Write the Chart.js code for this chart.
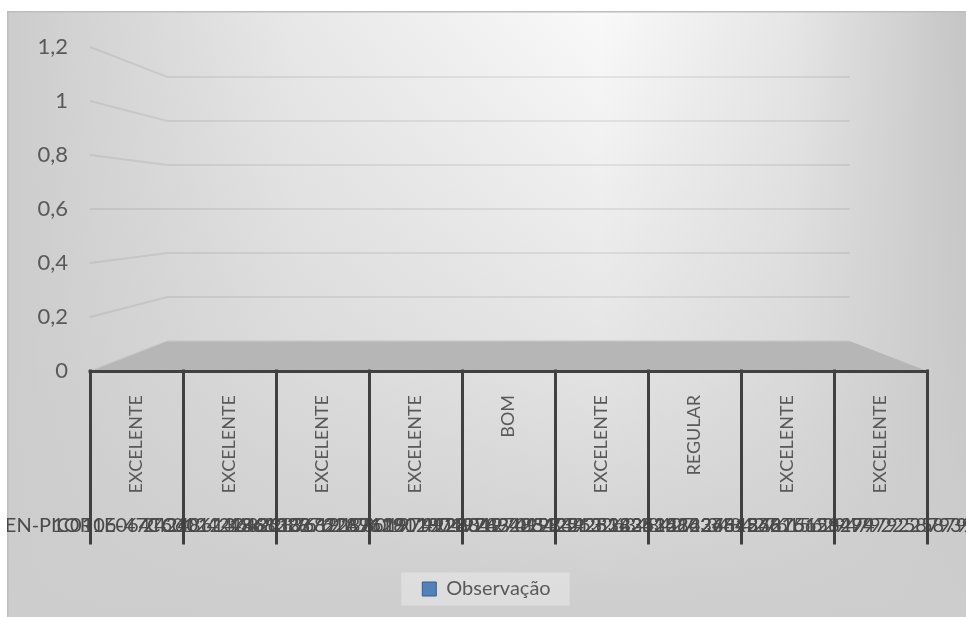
<!DOCTYPE html>
<html>
<head>
<meta charset="utf-8">
<title>Observação</title>
<script src="https://cdn.jsdelivr.net/npm/chart.js@4.4.1/dist/chart.umd.min.js"></script>
<style>
  html, body { margin: 0; padding: 0; background: #ffffff; }
  #frame { position: absolute; left: 7px; top: 11px; width: 959px; height: 606px; }
  #handle { position: absolute; left: 9px; top: 13px; width: 2px; height: 2px; background: #222; }
</style>
</head>
<body>
<div id="handle"></div>
<div id="frame"><canvas id="chart" width="959" height="606"></canvas></div>
<script>
// ---- data ----
const seriesName = 'Observação';
const ratings = ['EXCELENTE', 'EXCELENTE', 'EXCELENTE', 'EXCELENTE', 'BOM', 'EXCELENTE', 'REGULAR', 'EXCELENTE', 'EXCELENTE'];
const recordIds = [
  'ONTEN-PIC0106-47C6012424861382',
  '1OR1E064TC60124248613682287619',
  '2424861368228761912801974928342',
  '1368228761A912801974928342512263',
  '22876191280197492834251226348427',
  '9128019749283425122634842761568',
  '0197492834251226348427615629479',
  '2834251226348427615629479225879',
  '348427615629479225879394091240'
];
const observationValues = [0, 0, 0, 0, 0, 0, 0, 0, 0];
const yTickLabels = ['0', '0,2', '0,4', '0,6', '0,8', '1', '1,2'];
const yMax = 1.2;
const yStep = 0.2;

// ---- look ----
const FONT = 'Lato, "Noto Sans", sans-serif';
const TEXT = '#595959';
const DEPTH = 0.815;           // back wall scale relative to the front plane

function zeroPad(scale) {
  scale.paddingLeft = 0; scale.paddingRight = 0;
  scale.paddingTop = 0; scale.paddingBottom = 0;
}

// Background, 3D back wall, floor and category frame
const scene3d = {
  id: 'scene3d',
  beforeDraw(chart) {
    const { ctx, width, height } = chart;
    ctx.save();
    const gh = ctx.createLinearGradient(0, 0, width, 0);
    gh.addColorStop(0, '#cccccc');
    gh.addColorStop(0.3, '#e8e8e8');
    gh.addColorStop(0.62, '#f9f9f9');
    gh.addColorStop(0.82, '#e6e6e6');
    gh.addColorStop(1, '#c5c5c5');
    ctx.fillStyle = gh;
    ctx.fillRect(0, 0, width, height);
    const gv = ctx.createLinearGradient(0, 0, 0, height);
    gv.addColorStop(0, 'rgba(205,205,205,0)');
    gv.addColorStop(0.55, 'rgba(205,205,205,0.45)');
    gv.addColorStop(1, 'rgba(205,205,205,1)');
    ctx.fillStyle = gv;
    ctx.fillRect(0, 0, width, height);

    // outer frame edges
    ctx.strokeStyle = '#bdbdbd';
    ctx.lineWidth = 1.5;
    ctx.beginPath();
    ctx.moveTo(0.75, height); ctx.lineTo(0.75, 0.75); ctx.lineTo(width, 0.75);
    ctx.stroke();

    // legend panel
    const lg = chart.legend;
    if (lg && lg.legendHitBoxes && lg.legendHitBoxes.length) {
      const hb = lg.legendHitBoxes[0];
      ctx.fillStyle = 'rgba(255,255,255,0.3)';
      ctx.fillRect(hb.left - 21, hb.top - 6.5, hb.width + 40, hb.height + 13);
    }

    // walls and floor from the scales
    const xs = chart.scales.x, ys = chart.scales.y;
    const cx = (xs.left + xs.right) / 2;
    const cy = (ys.top + ys.bottom) / 2;
    const bx = px => cx + (px - cx) * DEPTH;
    const by = py => cy + (py - cy) * DEPTH;

    ctx.strokeStyle = 'rgba(0,0,0,0.07)';
    ctx.lineWidth = 2;
    ys.ticks.forEach(t => {
      if (t.value === 0) return;
      const py = ys.getPixelForValue(t.value);
      ctx.beginPath();
      ctx.moveTo(xs.left, py);
      ctx.lineTo(bx(xs.left), by(py));
      ctx.lineTo(bx(xs.right), by(py));
      ctx.stroke();
    });

    const p0 = ys.getPixelForValue(0);
    ctx.beginPath();
    ctx.moveTo(xs.left, p0);
    ctx.lineTo(bx(xs.left), by(p0));
    ctx.lineTo(bx(xs.right), by(p0));
    ctx.lineTo(xs.right, p0);
    ctx.closePath();
    ctx.fillStyle = '#b6b6b6';
    ctx.fill();
    ctx.strokeStyle = '#c4c4c4';
    ctx.lineWidth = 1.2;
    ctx.beginPath();
    ctx.moveTo(xs.left, p0);
    ctx.lineTo(bx(xs.left), by(p0));
    ctx.lineTo(bx(xs.right), by(p0));
    ctx.stroke();
    ctx.restore();
  },
  afterDatasetsDraw(chart) {
    const { ctx } = chart;
    const xs = chart.scales.x, ys = chart.scales.y, x2 = chart.scales.x2;
    const p0 = ys.getPixelForValue(0);
    const n = xs.ticks.length;
    ctx.save();
    ctx.strokeStyle = '#404040';
    ctx.lineWidth = 3;
    ctx.lineCap = 'square';
    for (let i = 0; i <= n; i++) {
      const px = i === 0 ? xs.left : i === n ? xs.right
        : (xs.getPixelForValue(i - 1) + xs.getPixelForValue(i)) / 2;
      ctx.beginPath();
      ctx.moveTo(Math.round(px) + 0.5, p0);
      ctx.lineTo(Math.round(px) + 0.5, x2.bottom);
      ctx.stroke();
    }
    ctx.beginPath();
    ctx.moveTo(xs.left, Math.round(p0) + 0.5);
    ctx.lineTo(xs.right, Math.round(p0) + 0.5);
    ctx.stroke();
    ctx.restore();
  }
};

new Chart(document.getElementById('chart'), {
  type: 'bar',
  data: {
    labels: ratings,
    datasets: [{
      label: seriesName,
      data: observationValues,
      backgroundColor: '#4f81bd',
      borderColor: '#385d8a',
      borderWidth: 1
    }]
  },
  options: {
    responsive: false,
    animation: false,
    devicePixelRatio: 1,
    layout: { padding: { left: 0, right: 0, top: 36, bottom: 8 } },
    plugins: {
      tooltip: { enabled: false },
      legend: {
        position: 'bottom',
        labels: {
          font: { family: FONT, size: 20 },
          color: TEXT,
          boxWidth: 14,
          boxHeight: 14,
          padding: 36
        }
      }
    },
    scales: {
      x: {
        position: 'bottom',
        weight: 0,
        grid: { display: false },
        border: { display: false },
        ticks: {
          autoSkip: false,
          minRotation: 90,
          maxRotation: 90,
          padding: 16,
          color: TEXT,
          font: { family: FONT, size: 18 }
        },
        afterFit(scale) { scale.height = 130; zeroPad(scale); }
      },
      x2: {
        type: 'category',
        labels: recordIds,
        position: 'bottom',
        weight: 1,
        offset: true,
        grid: { display: false },
        border: { display: false },
        ticks: {
          autoSkip: false,
          minRotation: 0,
          maxRotation: 0,
          padding: 5,
          color: '#4a4a4a',
          font: { family: FONT, size: 20 }
        },
        afterFit(scale) { scale.height = 42; zeroPad(scale); }
      },
      y: {
        position: 'left',
        min: 0,
        max: yMax,
        grid: { display: false },
        border: { display: false },
        ticks: {
          stepSize: yStep,
          padding: 14,
          color: TEXT,
          font: { family: FONT, size: 22 },
          callback: (v, i) => yTickLabels[i]
        },
        afterFit(scale) { scale.width = 83; zeroPad(scale); }
      },
      yRight: {
        position: 'right',
        display: true,
        grid: { display: false },
        border: { display: false },
        ticks: { display: false },
        afterFit(scale) { scale.width = 39; zeroPad(scale); }
      }
    }
  },
  plugins: [scene3d]
});
</script>
</body>
</html>
